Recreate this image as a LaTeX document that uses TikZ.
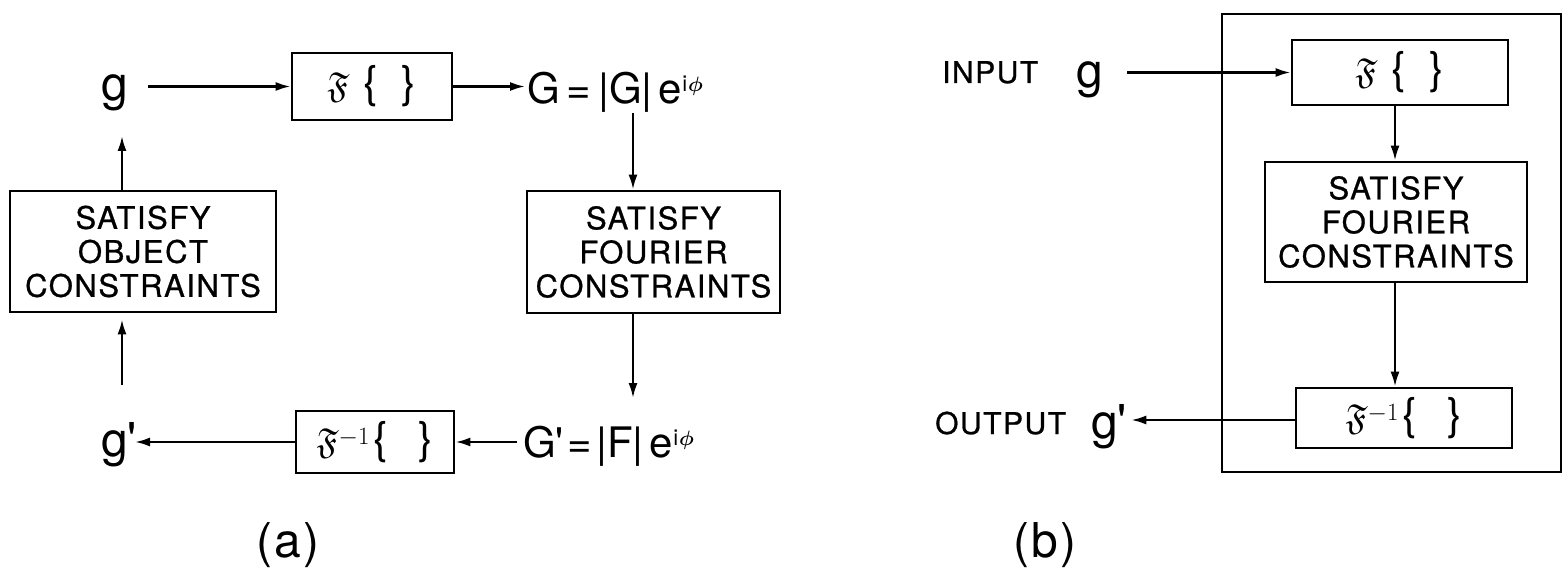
\documentclass[tikz,border=0pt]{standalone}
\usepackage{fontspec}
\usepackage{amssymb}
\usepackage{amsmath}
\setmainfont{TeX Gyre Heros}
\newfontfamily\heavy{TeX Gyre Heros}[FakeBold=0.8,LetterSpace=5]
\usetikzlibrary{arrows.meta}
\newcommand{\brc}[1]{{\fontsize{44}{44}\selectfont#1}}
\newcommand{\FourT}{$\mathfrak{F}$\hspace{14pt}\brc{\{}\hspace{24pt}\brc{\}}}
\newcommand{\FourTinv}{$\mathfrak{F}^{-1}$\hspace{4pt}\brc{\{}\hspace{30pt}\brc{\}}}
\newcommand{\eip}{\raisebox{12pt}{\fontsize{22}{22}\selectfont i\kern1pt$\boldsymbol{\phi}$}}
\newcommand{\prm}{\textquotesingle}
\begin{document}
\begin{tikzpicture}[x=1pt,y=-1pt,
  box/.style={draw,line width=2.8pt,inner sep=0pt,align=center,font=\heavy\fontsize{31}{34}\selectfont},
  ftbox/.style={draw,line width=2.8pt,inner sep=0pt,align=center,font=\fontsize{36}{36}\selectfont},
  arr/.style={line width=2.3pt,-{Latex[length=15pt,width=9pt]}},
  var/.style={inner sep=0pt,font=\fontsize{48}{48}\selectfont},
  eq/.style={inner sep=0pt,font=\fontsize{42}{42}\selectfont},
  word/.style={inner sep=0pt,font=\heavy\fontsize{30}{30}\selectfont},
  lab/.style={inner sep=0pt,font=\fontsize{48}{48}\selectfont}]
\useasboundingbox (0,0) rectangle (1563,585);

% ---------- (a) ----------
\node[ftbox,minimum width=160pt,minimum height=67pt] (Fa) at (372,86.5) {\FourT};
\node[ftbox,minimum width=158pt,minimum height=62pt] (Fia) at (375,442) {\FourTinv};
\node[box,minimum width=266pt,minimum height=121pt] (Obj) at (143,251.5) {SATISFY\\OBJECT\\CONSTRAINTS};
\node[box,minimum width=253pt,minimum height=122pt] (Foua) at (653.5,252) {SATISFY\\FOURIER\\CONSTRAINTS};
\node[var,anchor=base west] (ga) at (101,101) {g};
\node[var,anchor=base west] (gpa) at (101,456) {g\prm};
\node[eq,anchor=base west] (Ga) at (527,104) {G\hspace{7pt}=\hspace{7pt}|G|\hspace{6pt}e\eip};
\node[eq,anchor=base west] (Gpa) at (523,457) {G\prm\hspace{4pt}=\hspace{4pt}|F|\hspace{6pt}e\eip};
\coordinate (xa) at (122,0);
\coordinate (xb) at (633,0);
\coordinate (ya1) at (0,136);
\coordinate (ya2) at (0,385);
\coordinate (xb2) at (0,398);

\draw[arr] ([xshift=20pt]ga.east |- Fa.west) -- (Fa.west);
\draw[arr] (Fa.east) -- ([xshift=-2pt]Fa.east -| Ga.west);
\draw[arr] (xb |- Ga.south) -- (xb |- Foua.north);
\draw[arr] (xb |- Foua.south) -- (xb |- xb2);
\draw[arr] ([xshift=-6pt]Gpa.west |- Fia.east) -- (Fia.east);
\draw[arr] (Fia.west) -- ([xshift=34pt]gpa.west |- Fia.west);
\draw[arr] (xa |- ya2) -- ([yshift=-6pt]xa |- Obj.south);
\draw[arr] (xa |- Obj.north) -- (xa |- ya1);

% ---------- (b) ----------
\draw[line width=2.3pt] (1222,14) rectangle (1561,472);
\node[ftbox,minimum width=216pt,minimum height=65pt] (Fb) at (1400,72.5) {\FourT};
\node[box,minimum width=262pt,minimum height=120pt] (Foub) at (1396,222) {SATISFY\\FOURIER\\CONSTRAINTS};
\node[ftbox,minimum width=216pt,minimum height=60pt] (Fib) at (1404,418) {\FourTinv};
\node[word,anchor=base west] (inp) at (942,83) {INPUT};
\node[word,anchor=base west] (outp) at (935,434) {OUTPUT};
\node[var,anchor=base west] (gb) at (1076,88) {g};
\node[var,anchor=base west] (gpb) at (1091,438) {g\prm};
\coordinate (xc) at (1395,0);

\draw[arr] ([xshift=24pt]gb.east |- Fb.west) -- (Fb.west);
\draw[arr] (xc |- Fb.south) -- (xc |- Foub.north);
\draw[arr] (xc |- Foub.south) -- (xc |- Fib.north);
\draw[arr] ([yshift=-2pt]Fib.west) -- ([xshift=4pt,yshift=-2pt]gpb.east |- Fib.west);

% ---------- labels ----------
\node[lab] (la) at (288,545) {(\kern2pt a\kern2pt)};
\node[lab] (lb) at (1045,545) {(\kern2pt b\kern2pt)};
\end{tikzpicture}
\end{document}
